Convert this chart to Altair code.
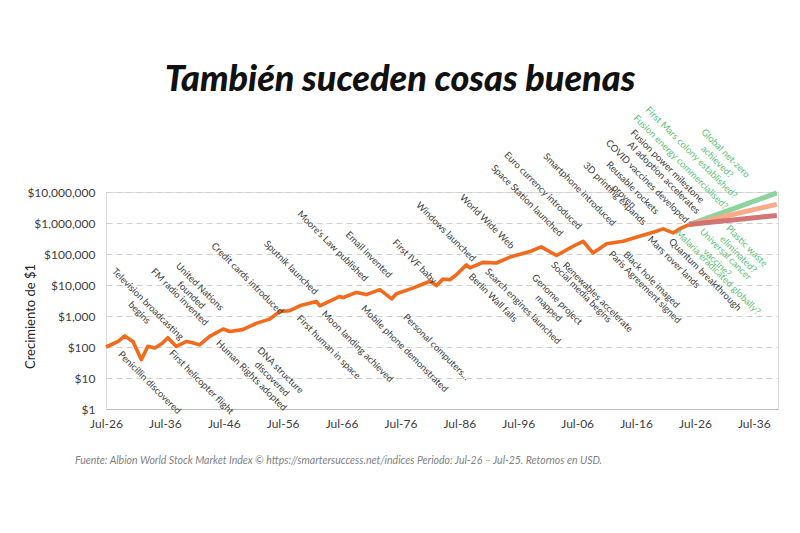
import altair as alt
import pandas as pd

# ---- historical growth of $1 (Albion World Stock Market Index, approx.) ----
hist_year = [1926.5, 1928.5, 1929.7, 1931.1, 1932.5, 1933.6, 1934.8, 1936.0, 1937.0, 1938.4,
             1940.2, 1941.2, 1942.4, 1944.1, 1946.4, 1947.5, 1949.7, 1952.1, 1954.3, 1956.0,
             1957.7, 1959.4, 1962.2, 1962.8, 1966.2, 1966.7, 1969.0, 1970.7, 1973.0, 1975.0,
             1975.8, 1978.6, 1981.5, 1982.6, 1983.7, 1984.9, 1986.0, 1987.7, 1988.3, 1990.5,
             1992.8, 1995.1, 1998.5, 2000.4, 2003.0, 2005.8, 2007.5, 2009.2, 2011.5, 2014.3,
             2017.1, 2019.4, 2021.1, 2022.8, 2023.9, 2025.5]
hist_value = [100, 148, 229, 148, 39, 105, 93, 129, 200, 105,
              151, 138, 117, 219, 380, 316, 363, 589, 794, 1413,
              1479, 2138, 2951, 2138, 4266, 3890, 5754, 4898, 7079, 3548,
              5248, 7943, 13183, 9550, 15488, 14791, 21380, 44668, 35481, 53703,
              51286, 79433, 120226, 169824, 89125, 177828, 257040, 107152, 213796, 257040,
              371535, 501187, 645654, 478630, 645654, 891251]

# ---- projections ----
proj_series = ["alto", "alto", "medio", "medio", "bajo", "bajo"]
proj_year = [2025.5, 2040.4, 2025.5, 2040.4, 2025.5, 2040.4]
proj_value = [891251, 9300000, 891251, 4000000, 891251, 1740000]
proj_colors = ["#86D199", "#F9A783", "#CF6E6E"]

# ---- annotations (text, anchor year, anchor value, kind) ----
ann_text = [
    ["Television broadcasting", "begins"], ["FM radio invented"], ["United Nations", "founded"],
    ["Credit cards introduced"], ["Sputnik launched"], ["Moore's Law published"],
    ["Email invented"], ["First IVF baby"], ["Windows launched"], ["World Wide Web"],
    ["Space Station launched"], ["Euro currency introduced"], ["Smartphone introduced"],
    ["3D printing expands"], ["Reusable rockets", "proven"], ["COVID vaccines developed"],
    ["AI adoption accelerates"], ["Fusion power milestone"],
    ["Fusion energy commercialised?"], ["First Mars colony established?"], ["Global net-zero", "achieved?"],
    ["Penicillin discovered"], ["First helicopter flight"], ["Human Rights adopted"],
    ["DNA structure", "discovered"], ["First human in space"], ["Moon landing achieved"],
    ["Mobile phone demonstrated"], ["Personal computers..."], ["Berlin Wall falls"],
    ["Search engines launched"], ["Genome project", "mapped"], ["Social media begins"],
    ["Renewables accelerate"], ["Paris Agreement signed"], ["Black hole imaged"],
    ["Mars rover lands"], ["Quantum breakthrough"],
    ["Malaria eradicated globally?"], ["Universal cancer", "vaccine?"], ["Plastic waste", "eliminated?"],
]
ann_year = [1933.6, 1939.0, 1942.4, 1950.5, 1957.9, 1965.0, 1971.1, 1978.9, 1984.2, 1991.2,
            1998.0, 2000.7, 2006.9, 2012.9, 2015.9, 2018.4, 2021.2, 2021.8,
            2024.1, 2025.9, 2031.7,
            1933.9, 1942.7, 1951.2, 1956.1, 1964.3, 1969.2, 1977.2, 1982.6, 1992.2,
            1997.3, 2003.1, 2007.2, 2010.0, 2018.0, 2019.1, 2022.9, 2028.2,
            2030.4, 2031.7, 2035.3]
ann_value = [2400, 4070, 8800, 15960, 36100, 178600, 94900, 56500, 523600, 1100000,
             5240000, 11000000, 11900000, 8800000, 13500000, 22000000, 28900000, 67000000,
             91000000, 185000000, 176000000,
             7.05, 7.3, 12.05, 17.5, 98.7, 104, 88, 98.6, 3890,
             2040, 3360, 5860, 4040, 8490, 14800, 54300, 21500,
             25900, 97700, 181000]
ann_kind = ["hist"] * 18 + ["future"] * 3 + ["hist"] * 17 + ["future"] * 3

title_text = "También suceden cosas buenas"
footer_text = ("Fuente: Albion World Stock Market Index © https://smartersuccess.net/indices "
               "Periodo: Jul-26 – Jul-25. Retornos en USD.")
y_ticks = [1, 10, 100, 1000, 10000, 100000, 1000000, 10000000]
x_ticks = [1926.5 + 10 * i for i in range(12)]

hist_df = pd.DataFrame({"year": hist_year, "value": hist_value})
proj_df = pd.DataFrame({"serie": proj_series, "year": proj_year, "value": proj_value})
ann_df = pd.DataFrame({"txt": ann_text, "year": ann_year, "value": ann_value, "kind": ann_kind})

x_scale = alt.Scale(domain=[1926.5, 2040.6], nice=False, zero=False)
y_scale = alt.Scale(type="log", domain=[1, 10000000], nice=False)

x_enc = alt.X("year:Q", scale=x_scale, axis=alt.Axis(
    values=x_ticks, title=None, grid=False, ticks=False, labelPadding=9,
    labelExpr="'Jul-' + slice('0' + (floor(datum.value) % 100), -2)",
    labelFont="Lato", labelFontSize=12, labelColor="#404040",
    domainColor="#BFBFBF", domainWidth=1, labelFlush=False))
y_enc = alt.Y("value:Q", scale=y_scale, axis=alt.Axis(
    values=y_ticks, format="$,.0f", title="Crecimiento de $1",
    grid=True, gridDash=[6, 4], gridColor="#D0D0D0", gridWidth=1,
    ticks=False, domain=False, labelPadding=11,
    labelFont="Lato", labelFontSize=12, labelColor="#404040",
    titleFont="Lato", titleFontSize=13, titleFontWeight="normal", titleColor="#262626",
    titleX=-76, titleY=124, titleAngle=-90, titleBaseline="middle", titleAlign="center"))

hist_line = alt.Chart(hist_df).mark_line(color="#F26B1C", strokeWidth=3.6, strokeJoin="round").encode(
    x=x_enc, y=y_enc)

proj_line = alt.Chart(proj_df).mark_line(strokeWidth=5, opacity=0.95).encode(
    x="year:Q", y="value:Q",
    color=alt.Color("serie:N", scale=alt.Scale(domain=["alto", "medio", "bajo"], range=proj_colors), legend=None),
    detail="serie:N")

ann = alt.Chart(ann_df).mark_text(angle=45, align="center", baseline="middle", font="Lato",
                                  fontSize=9.5, lineHeight=12).encode(
    x="year:Q", y="value:Q", text="txt",
    color=alt.Color("kind:N", scale=alt.Scale(domain=["hist", "future"], range=["#404040", "#5FBF78"]), legend=None))

title = alt.Chart(pd.DataFrame({"t": [title_text]})).mark_text(
    align="center", baseline="alphabetic", font="Lato", fontSize=36, fontWeight=900,
    fontStyle="italic", color="#111111").encode(
    x=alt.value(294), y=alt.value(-101), text="t:N")

footer = alt.Chart(pd.DataFrame({"t": [footer_text]})).mark_text(
    align="left", baseline="middle", font="Lato", fontSize=10.5, fontStyle="italic", color="#7F7F7F").encode(
    x=alt.value(-31), y=alt.value(269), text="t:N")

chart = alt.layer(hist_line, proj_line, ann, title, footer).resolve_scale(
    color="independent"
).properties(
    width=672, height=217,
    autosize=alt.AutoSizeParams(type="none"),
    padding={"left": 106, "top": 192, "right": 22, "bottom": 124},
).configure_view(stroke=None).configure(background="white")

chart.save("out.html", embed_options={"renderer": "svg", "actions": False})
